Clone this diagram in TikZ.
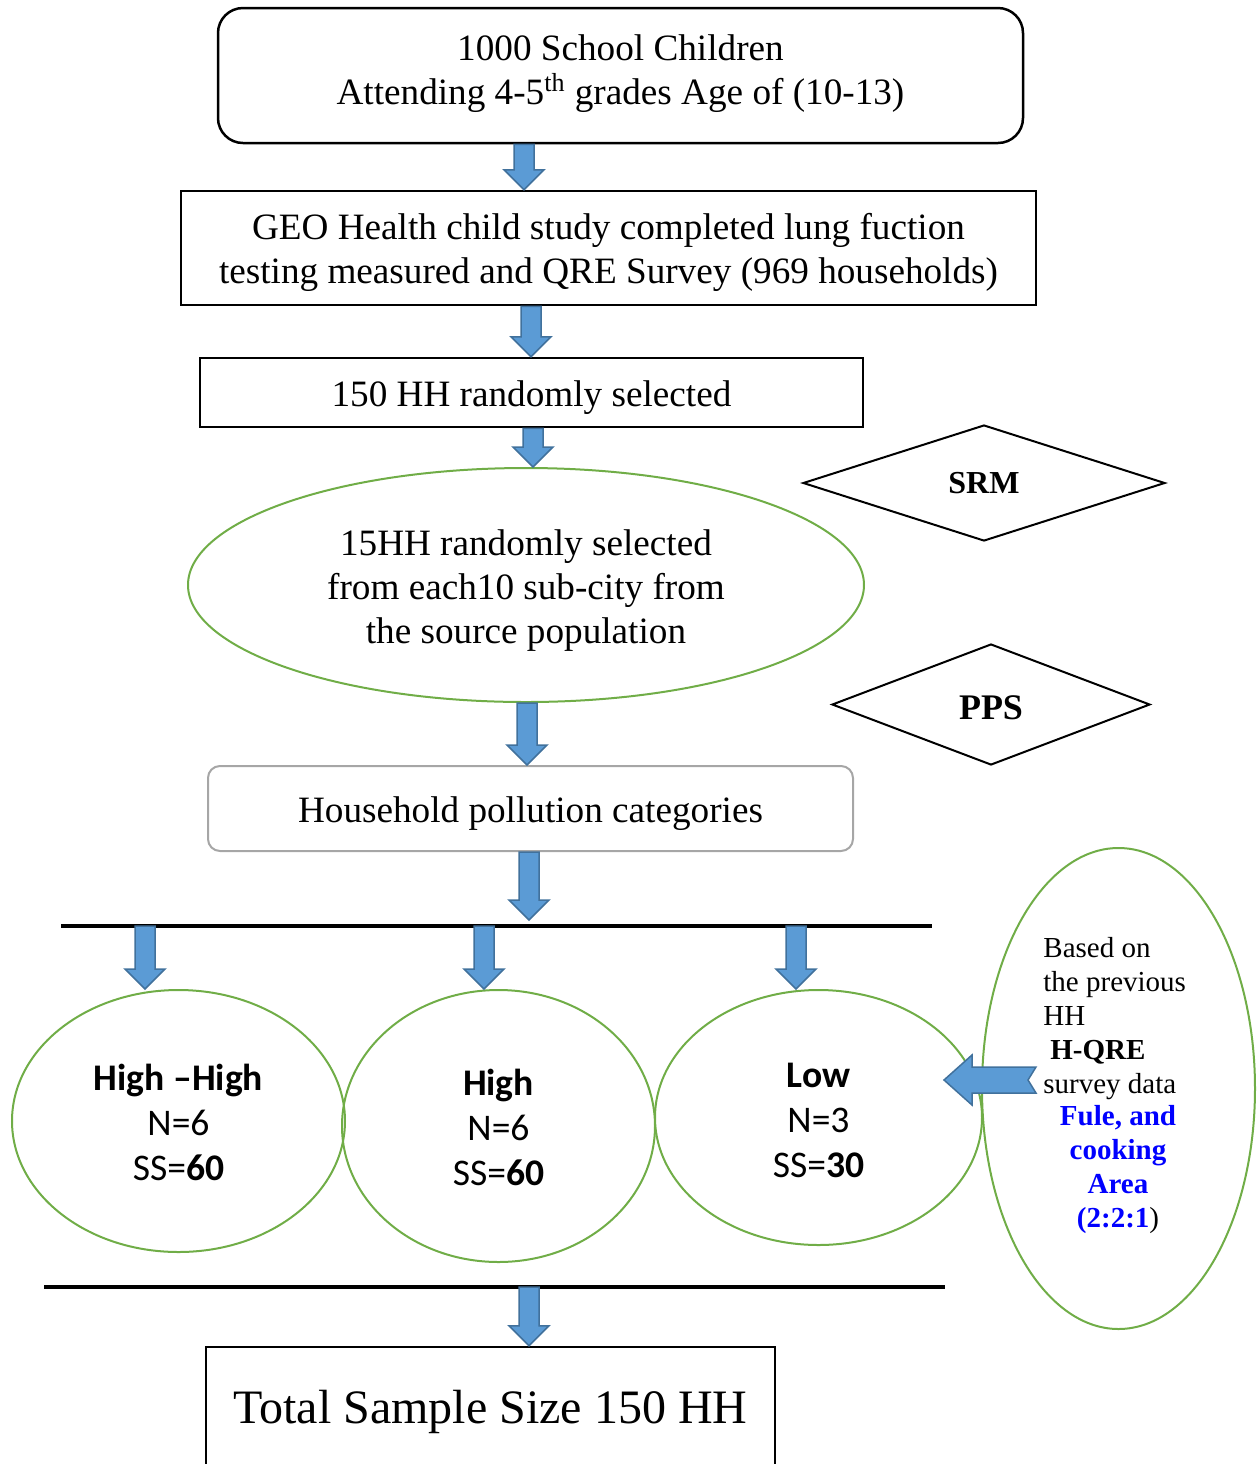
\documentclass[tikz,border=0pt]{standalone}
\usepackage{fontspec}
\setmainfont{Liberation Serif}
\newfontfamily\calfont{Carlito}
\usetikzlibrary{shapes.geometric,calc}
\definecolor{arrowblue}{HTML}{5B9BD5}
\definecolor{arrowedge}{HTML}{41719C}
\definecolor{ellgreen}{HTML}{70AD47}
\definecolor{boxgray}{HTML}{A6A6A6}
\newcommand\lift[1]{\rule{0pt}{#1}}
\tikzset{
  stepbox/.style={draw, line width=1.25pt, inner sep=0pt, align=center, font=\fontsize{18.6}{22}\selectfont},
  txtdown/.style={execute at begin node={\lift{#1}}},
  ell/.style={ellipse, draw=ellgreen, line width=1pt, inner sep=0pt, align=center},
  catell/.style={ell, font=\calfont\fontsize{18.8}{22.5}\selectfont},
  dia/.style={diamond, draw, line width=1pt, inner sep=0pt, font=\bfseries},
  blk/.style={fill=arrowblue, draw=arrowedge, line width=0.75pt, line join=miter},
  bar/.style={line width=2pt},
  note/.style={inner sep=0pt, font=\fontsize{14.5}{17}\selectfont}
}
% block arrow pointing down: #1 top of shaft, #2 tip
\newcommand\blkdown[2]{%
  \draw[blk] let \p1=(#1), \p2=(#2) in
    (\x1-5pt,\y1) -- (\x1+5pt,\y1) -- (\x1+5pt,\y2+10pt) -- (\x1+10pt,\y2+10pt)
    -- (\x1,\y2) -- (\x1-10pt,\y2+10pt) -- (\x1-5pt,\y2+10pt) -- cycle;}
% notched block arrow pointing left: #1 tail, #2 tip
\newcommand\blkleft[2]{%
  \draw[blk] let \p1=(#1), \p2=(#2) in
    (\x1,\y1+6.5pt) -- (\x2+14pt,\y1+6.5pt) -- (\x2+14pt,\y1+12.5pt) -- (\x2,\y1)
    -- (\x2+14pt,\y1-12.5pt) -- (\x2+14pt,\y1-6.5pt) -- (\x1,\y1-6.5pt) -- (\x1-4pt,\y1) -- cycle;}

\begin{document}
\begin{tikzpicture}[x=0.5pt,y=-0.5pt]
    \useasboundingbox (0,0) rectangle (1258,1464);
    \node[stepbox, rounded corners=12.5pt, minimum width=402.5pt, minimum height=67.5pt] (children) at (620.5,75.5)
        {1000 School Children\\Attending 4-5\textsuperscript{th} grades Age of (10-13)\rule[-6pt]{0pt}{6pt}};
    \node[stepbox, minimum width=427.5pt, minimum height=57pt] (geo) at (608.5,248)
        {\lift{18pt}GEO Health child study completed lung fuction\\testing measured and QRE Survey (969 households)};
    \node[stepbox, txtdown=18pt, minimum width=331.5pt, minimum height=34.5pt] (hh150) at (531.5,392.5) {150 HH randomly selected};
    \node[ell, font=\fontsize{18.6}{22}\selectfont, minimum width=338pt, minimum height=117pt] (subcity) at (526,585)
        {\lift{18pt}15HH randomly selected\\from each10 sub-city from\\the source population};
    \node[dia, font=\bfseries\fontsize{16}{19}\selectfont, minimum width=181pt, minimum height=58pt] (srm) at (984,483) {SRM};
    \node[dia, txtdown=15pt, font=\bfseries\fontsize{18}{22}\selectfont, minimum width=159pt, minimum height=60.5pt] (pps) at (991,704.5) {PPS};
    \node[stepbox, txtdown=18pt, draw=boxgray, line width=1pt, rounded corners=6pt, minimum width=322.5pt, minimum height=42.5pt] (pollution) at (530.5,808.5)
        {Household pollution categories};
    \node[catell, minimum width=166.5pt, minimum height=131pt] (highhigh) at (178.5,1121)
        {\lift{15pt}\textbf{High –High}\\N=6\\SS=\textbf{60}};
    \node[catell, minimum width=156.5pt, minimum height=136pt] (high) at (498.5,1126)
        {\lift{15pt}\textbf{High}\\N=6\\SS=\textbf{60}};
    \node[catell, minimum width=163.5pt, minimum height=127.5pt] (low) at (818.5,1117.5)
        {\lift{15pt}\textbf{Low}\\N=3\\SS=\textbf{30}};
    \node[ell, minimum width=136.5pt, minimum height=240.5pt] (basis) at (1118.5,1088.5) {};
    \node[note, anchor=west, align=left] (basistxt) at (1043,1019)
        {Based on\\the previous\\HH\\\hspace{3.5pt}\textbf{H-QRE}\\survey data};
    \node[note, align=center, text=blue, font=\fontsize{14.5}{17}\selectfont\bfseries] (fuel) at (1118,1170)
        {Fule, and\\cooking\\Area\\(2:2:1{\color{black}\mdseries)}};
    \node[stepbox, txtdown=20.5pt, minimum width=284.5pt, minimum height=61.5pt, font=\fontsize{24}{28}\selectfont] (total) at (490.5,1408.5)
        {Total Sample Size 150 HH};
    \coordinate (bar1l) at (61,926);
    \coordinate (bar1r) at (932,926);
    \coordinate (bar2l) at (44,1287);
    \coordinate (bar2r) at (945,1287);
    \coordinate (split) at (529,920);
    \coordinate (basistail) at (1036,1080);
    \coordinate (lowtip) at (944,1080);
    \draw[bar] (bar1l) -- (bar1r);
    \draw[bar] (bar2l) -- (bar2r);
    \blkdown{524,0 |- children.south}{524,0 |- geo.north}
    \blkdown{531,0 |- geo.south}{531,0 |- hh150.north}
    \blkdown{533,0 |- hh150.south}{533,0 |- subcity.north}
    \blkdown{527,0 |- subcity.south}{527,0 |- pollution.north}
    \blkdown{529,0 |- pollution.south}{split}
    \blkdown{145,0 |- bar1l}{145,0 |- highhigh.north}
    \blkdown{484,0 |- bar1l}{484,0 |- high.north}
    \blkdown{796,0 |- bar1l}{796,0 |- low.north}
    \blkdown{529,0 |- bar2l}{529,0 |- total.north}
    \blkleft{basistail}{lowtip}
\end{tikzpicture}
\end{document}
